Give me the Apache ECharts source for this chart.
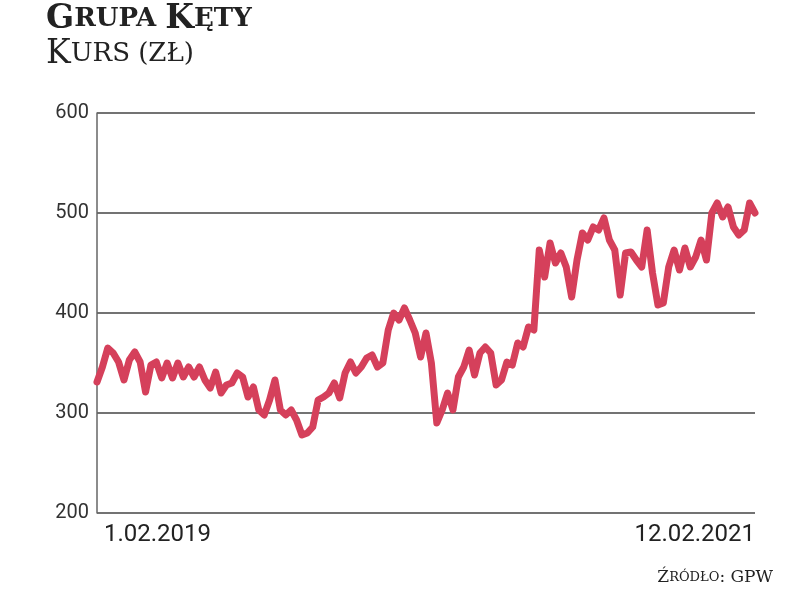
<!DOCTYPE html>
<html>
<head>
<meta charset="utf-8">
<script src="https://cdn.jsdelivr.net/npm/echarts@6/dist/echarts.min.js"></script>
<style>html,body{margin:0;background:#fff}#main{width:795px;height:593px}</style>
</head>
<body>
<div id="main"></div>
<script>
// kurs akcji (zł), odczyt z wykresu
const prices = [331, 346, 365, 360, 351, 333, 353, 361, 351, 321, 348, 351, 335, 350, 335, 350, 336, 346, 336, 346,
  333, 325, 341, 320, 328, 330, 340, 336, 316, 326, 303, 298, 313, 333, 303, 298, 303, 293, 278, 280,
  286, 313, 316, 320, 330, 315, 340, 351, 340, 346, 355, 358, 346, 350, 383, 400, 393, 405, 393, 380,
  356, 380, 350, 290, 303, 320, 303, 336, 346, 363, 338, 360, 366, 360, 328, 333, 351, 348, 370, 366,
  386, 383, 463, 436, 470, 450, 460, 446, 416, 453, 480, 473, 486, 483, 495, 473, 463, 418, 460, 461,
  453, 446, 483, 440, 408, 410, 446, 463, 443, 465, 446, 456, 473, 453, 500, 510, 496, 506, 486, 478,
  483, 510, 500];
const days = prices.map((_, i) => i);
const yTicks = [200, 300, 400, 500, 600];

const myChart = echarts.init(document.getElementById('main'));
const serif = 'DejaVu Serif';
let option = {
  animation: false,
  grid: {left: 97, right: 40, top: 113, bottom: 80},
  xAxis: {
    type: 'category', data: days, boundaryGap: false,
    axisLine: {show: false}, axisTick: {show: false}, axisLabel: {show: false}
  },
  yAxis: {
    type: 'value', min: 200, max: 600, interval: 100,
    axisLine: {show: true, lineStyle: {color: '#666', width: 1.5}},
    axisTick: {show: false},
    axisLabel: {color: '#333', fontSize: 20, fontFamily: 'Roboto', margin: 8,
      formatter: v => yTicks.includes(v) ? String(v) : ''},
    splitLine: {lineStyle: {color: '#444', width: 1.5}}
  },
  series: [{
    type: 'line', data: prices, symbol: 'none',
    lineStyle: {color: '#d5405b', width: 7, join: 'round', cap: 'round'}
  }],
  graphic: [
    {type: 'text', left: 46, top: 3, style: {
      text: '{b|G}{s|RUPA }{b|K}{s|ĘTY}',
      rich: {
        b: {fontFamily: serif, fontWeight: 'bold', fontSize: 33, fill: '#222'},
        s: {fontFamily: serif, fontWeight: 'bold', fontSize: 26, fill: '#222'}
      }}},
    {type: 'text', left: 46, top: 38, style: {
      text: '{b|K}{s|URS (ZŁ)}',
      rich: {
        b: {fontFamily: serif, fontSize: 33, fill: '#222'},
        s: {fontFamily: serif, fontSize: 26, fill: '#222'}
      }}},
    {type: 'text', left: 104, top: 523, style: {text: '1.02.2019', fontSize: 24, fontFamily: 'Roboto', fill: '#222'}},
    {type: 'text', right: 40, top: 523, style: {text: '12.02.2021', fontSize: 24, fontFamily: 'Roboto', fill: '#222'}},
    {type: 'text', right: 22, top: 569, style: {
      text: '{b|Ź}{s|RÓDŁO}{b|: GPW}',
      rich: {
        b: {fontFamily: serif, fontSize: 17, fill: '#222'},
        s: {fontFamily: serif, fontSize: 13, fill: '#222'}
      }}}
  ]
};
myChart.setOption(option);
</script>
</body>
</html>
